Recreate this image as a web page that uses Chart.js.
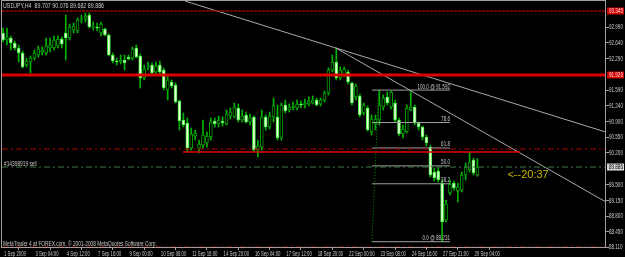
<!DOCTYPE html>
<html><head><meta charset="utf-8">
<script src="https://cdn.jsdelivr.net/npm/chart.js@4"></script>
<style>html,body{margin:0;padding:0;background:#000;}canvas{display:block}</style>
</head><body>
<canvas id="c" width="625" height="257"></canvas>
<script>
// ---- data (USDJPY H4) ----
const opens = [92.857,92.702,92.747,92.636,92.525,92.414,92.148,92.215,92.303,92.370,
92.436,92.414,92.525,92.525,92.569,92.724,92.857,92.747,92.924,92.902,
93.146,93.168,93.256,92.990,92.990,92.857,92.946,92.813,92.370,92.237,
92.215,92.259,92.325,92.303,92.525,92.348,91.860,92.104,92.148,91.993,
92.148,92.037,91.594,91.771,91.705,91.350,90.928,90.862,90.307,90.574,
90.307,90.373,90.418,90.551,90.906,90.840,90.906,90.840,91.017,90.995,
91.195,90.928,91.039,90.884,90.995,90.263,90.329,90.995,90.773,90.995,
90.995,90.529,91.261,91.150,91.195,91.195,91.283,91.261,91.283,91.305,
91.372,91.283,91.372,91.527,92.037,92.215,91.860,91.926,91.993,91.749,
91.439,91.461,91.084,91.195,90.662,90.840,90.928,91.217,91.439,91.217,
91.305,90.928,90.618,90.662,91.150,91.217,90.862,90.773,90.551,90.329,
89.776,89.798,89.532,88.711,89.310,89.532,89.355,89.375,89.710,89.820,
90.042,89.707];
const highs = [92.968,92.968,92.791,92.680,92.591,92.458,92.303,92.348,92.481,92.569,
92.547,92.747,92.747,92.791,92.791,92.769,93.256,93.057,93.079,93.190,
93.256,93.301,93.301,93.101,93.079,93.101,92.968,92.835,92.414,92.303,
92.370,92.370,92.370,92.547,92.591,92.392,92.148,92.215,92.192,92.215,
92.237,92.082,91.926,91.816,91.749,91.372,91.084,90.973,90.751,90.707,
90.485,90.928,90.662,90.973,90.973,91.017,90.995,91.150,91.195,91.305,
91.283,91.150,91.106,91.061,91.017,90.485,91.150,91.039,91.106,91.416,
91.261,91.305,91.372,91.283,91.328,91.372,91.350,91.394,91.439,91.461,
91.416,91.416,91.570,92.082,92.370,92.525,92.104,92.104,92.037,91.771,
91.727,91.505,91.305,91.239,91.039,91.039,91.592,91.483,91.550,91.570,
91.372,90.973,90.817,91.261,91.572,91.261,90.884,90.795,90.596,90.373,
89.864,89.864,89.599,89.155,89.599,89.576,89.532,89.776,89.975,90.219,
90.086,90.076];
const lows = [92.658,92.591,92.481,92.481,92.215,92.082,92.104,91.971,92.259,92.325,
92.370,92.370,92.436,92.481,92.525,92.525,92.259,92.702,92.857,92.857,
93.079,93.101,92.968,92.924,92.902,92.791,92.791,92.348,92.192,92.148,
92.170,92.037,92.259,92.259,92.303,91.638,91.816,92.037,91.926,91.926,
91.949,91.594,91.372,91.638,91.305,90.707,90.773,90.219,90.263,90.485,
90.197,90.307,90.329,90.485,90.773,90.773,90.795,90.817,90.950,90.973,
90.884,90.884,90.862,90.817,90.219,90.108,90.263,90.707,90.729,90.884,
90.485,90.485,91.084,91.106,91.150,91.150,91.195,91.195,91.239,91.283,
91.239,91.239,91.328,91.483,91.993,91.816,91.816,91.882,91.727,91.261,
91.372,90.995,91.039,90.684,90.596,90.707,90.817,91.150,91.261,91.172,
90.884,90.574,90.529,90.640,91.128,90.817,90.707,90.485,90.351,89.665,
89.576,89.554,88.231,88.667,89.266,89.375,89.110,89.332,89.599,89.776,
89.710,89.682];
const closes = [92.702,92.769,92.636,92.525,92.414,92.104,92.237,92.303,92.414,92.503,
92.481,92.569,92.591,92.702,92.724,92.614,92.747,92.990,93.012,93.146,
93.168,93.234,92.990,93.012,92.968,93.057,92.813,92.370,92.237,92.215,
92.259,92.192,92.281,92.503,92.325,91.860,92.059,92.126,91.971,92.126,
91.993,91.638,91.816,91.683,91.328,90.906,90.817,90.307,90.618,90.640,
90.396,90.596,90.574,90.884,90.840,90.928,90.862,91.061,91.106,91.217,
90.928,91.017,90.884,90.973,90.263,90.351,90.995,90.773,91.017,91.239,
90.529,91.261,91.128,91.217,91.239,91.283,91.261,91.305,91.350,91.372,
91.261,91.372,91.527,92.037,92.215,91.860,92.037,92.059,91.771,91.305,
91.683,91.039,91.261,90.707,90.950,90.950,91.261,91.416,91.305,91.550,
90.928,90.618,90.729,91.195,91.217,90.862,90.773,90.551,90.418,89.710,
89.643,89.599,88.667,89.066,89.510,89.421,89.443,89.710,89.886,89.997,
89.754,89.886];

const yTicks = [92.990,92.640,92.290,91.590,91.240,90.900,90.550,90.200,89.500,89.150,88.800,88.450,88.110];
const xTickIdx = [0,8,16,24,32,40,48,56,64,72,80,88,96,104,112,120];
const xTickLabels = ["1 Sep 2009","3 Sep 04:00","4 Sep 12:00","7 Sep 16:00","9 Sep 00:00","10 Sep 08:00",
  "11 Sep 16:00","14 Sep 20:00","16 Sep 04:00","17 Sep 12:00","18 Sep 20:00","22 Sep 00:00",
  "23 Sep 08:00","24 Sep 16:00","27 Sep 21:00","29 Sep 04:00"];

// objects drawn on the chart (candle index, price)
const topLevel = 93.345;
const redLevel = 91.926;
const supportLevel = 90.219;
const supportRange = [45.9, 131.9];
const dashLevels = [90.285, 88.113];
const orderPrice = 89.886;
const trendA = [{x:46.4, y:93.567},{x:153.8, y:90.66}];
const trendB = [{x:84.9, y:92.525},{x:153.8, y:89.11}];
const fibHigh = 91.592, fibLow = 88.231;
const fibLevels = [100, 78.6, 61.8, 50.0, 38.2, 0];
const fibRange = [94.1, 114.0];
const fibAnchorIdx = [94.1, 95.8];

const X_MIN = -0.26, X_MAX = 153.8, Y_MIN = 88.091, Y_MAX = 93.567;
const FONT = "'Liberation Sans', Arial, sans-serif";

const N = opens.length;
const idx = opens.map((_, i) => i);
const isBear = idx.map(i => closes[i] < opens[i]);
const full = [X_MIN, X_MAX];

function hl(price, range) { return [{x: range[0], y: price}, {x: range[1], y: price}]; }
function lineDs(data, color, width, dash) {
  return {type:'line', data, borderColor: color, borderWidth: width, borderDash: dash || [],
    pointRadius: 0, fill: false, tension: 0, order: 0};
}
const fibPrice = l => fibLow + l / 100 * (fibHigh - fibLow);

const datasets = [
  {type:'bar', data: idx.map(i => ({x: i, y: [lows[i], highs[i]]})), barThickness: 1,
   backgroundColor: '#00b400', borderWidth: 0, grouped: false, order: 2},
  {type:'bar', data: idx.map(i => ({x: i, y: [opens[i], closes[i]]})), barThickness: 3,
   backgroundColor: idx.map(i => isBear[i] ? '#e6ffd6' : '#000000'),
   borderColor: idx.map(i => isBear[i] ? '#40f040' : '#00a000'),
   borderWidth: 1, borderSkipped: false, grouped: false, order: 1},
  lineDs(hl(topLevel, full), '#a00000', 1.5, [3, 1]),
  lineDs(hl(redLevel, full), '#dd0000', 3),
  lineDs(hl(dashLevels[0], full), '#b00000', 1, [6, 3, 2, 3]),
  lineDs(hl(dashLevels[1], full), '#b00000', 1, [6, 3, 2, 3]),
  lineDs(hl(orderPrice, full), '#3a7a44', 1, [6, 3, 2, 3]),
  lineDs(hl(supportLevel, supportRange), '#e00000', 1.5),
  lineDs(trendA, '#a8a8a8', 1),
  lineDs(trendB, '#a8a8a8', 1),
  lineDs([{x: fibAnchorIdx[0], y: fibLow}, {x: fibAnchorIdx[1], y: fibHigh}], '#00a000', 1, [1, 2]),
];
fibLevels.forEach(l => datasets.push(lineDs(hl(fibPrice(l), fibRange), '#a0a0a0', 1)));

function txt(ctx, s, x, y, size, sx, align, base) {
  ctx.save();
  ctx.font = size + 'px ' + FONT;
  ctx.translate(x, y); ctx.scale(sx, 1);
  ctx.textAlign = align || 'left'; ctx.textBaseline = base || 'alphabetic';
  ctx.fillText(s, 0, 0);
  ctx.restore();
}

const overlay = {
  id: 'overlay',
  beforeDraw(chart) {
    const c = chart.ctx; c.save(); c.fillStyle = '#000'; c.fillRect(0, 0, chart.width, chart.height); c.restore();
  },
  afterDraw(chart) {
    const {ctx, chartArea: a, scales: {x, y}} = chart;
    ctx.save();
    ctx.strokeStyle = '#a0a0a0'; ctx.lineWidth = 1;
    ctx.strokeRect(Math.round(a.left) - 0.5, Math.round(a.top) - 0.5, Math.round(a.right - a.left), Math.round(a.bottom - a.top));
    ctx.fillStyle = '#c8c8c8';
    // axis tick labels
    x.ticks.forEach((t, i) => txt(ctx, xTickLabels[i], x.getPixelForValue(t.value) + 1, 256, 6.5, 0.66));
    y.ticks.forEach(t => txt(ctx, t.value.toFixed(3), a.right + 3, y.getPixelForValue(t.value) + 0.5, 6.5, 0.7, 'left', 'middle'));
    txt(ctx, 'USDJPY,H4  ' + [opens[N-1], highs[N-1], lows[N-1], closes[N-1]].map(v => v.toFixed(3)).join(' '), 3, 8, 7, 0.76);
    txt(ctx, 'MetaTrader 4 at FOREX.com, \u00A9 2001-2008 MetaQuotes Software Corp.', 3, 246, 6.5, 0.74);
    txt(ctx, '#14398919 sell', 4, y.getPixelForValue(orderPrice) - 1, 6.5, 0.74);
    fibLevels.forEach(l => {
      const p = fibPrice(l);
      const s = l.toFixed(1) + ((l === 100 || l === 0) ? ' @ ' + p.toFixed(3) : '');
      txt(ctx, s, x.getPixelForValue(fibRange[1]), y.getPixelForValue(p) - 1.5, 6.5, 0.7, 'right');
    });
    // price boxes on axis
    const box = (p, bg, fg) => {
      const py = y.getPixelForValue(p);
      ctx.fillStyle = bg; ctx.fillRect(a.right + 1, py - 3.5, chart.width - a.right - 2, 7);
      ctx.fillStyle = fg; txt(ctx, p.toFixed(3), a.right + 3, py + 0.5, 6.5, 0.7, 'left', 'middle');
    };
    box(topLevel, '#d00000', '#ffdcdc');
    box(redLevel, '#d00000', '#ffdcdc');
    box(orderPrice, '#d8d8d8', '#000000');
    // timer text
    ctx.font = '11px ' + FONT; ctx.fillStyle = '#c8b400'; ctx.textAlign = 'left'; ctx.textBaseline = 'top';
    ctx.fillText('<--20:37', x.getPixelForValue(N - 1) + 30, y.getPixelForValue(orderPrice) + 2);
    ctx.restore();
  }
};

new Chart(document.getElementById('c'), {
  type: 'bar',
  data: {datasets},
  options: {
    responsive: false, animation: false, devicePixelRatio: 1,
    layout: {padding: {left: 2, top: 1, right: 0, bottom: 0}},
    plugins: {legend: {display: false}, tooltip: {enabled: false}},
    scales: {
      x: {
        type: 'linear', position: 'bottom', min: X_MIN, max: X_MAX, offset: false,
        afterBuildTicks: s => { s.ticks = xTickIdx.map(v => ({value: v})); },
        afterFit: s => { s.height = 9; s.paddingLeft = 0; s.paddingRight = 0; },
        ticks: {display: false, autoSkip: false, maxRotation: 0},
        grid: {display: true, drawOnChartArea: false, drawTicks: true, tickLength: 2, color: '#a0a0a0'},
        border: {display: false}
      },
      y: {
        type: 'linear', position: 'right', min: Y_MIN, max: Y_MAX,
        afterBuildTicks: s => { s.ticks = yTicks.map(v => ({value: v})); },
        afterFit: s => { s.width = 19; s.paddingTop = 0; s.paddingBottom = 0; },
        ticks: {display: false},
        grid: {display: true, drawOnChartArea: false, drawTicks: true, tickLength: 3, color: '#a0a0a0'},
        border: {display: false}
      }
    }
  },
  plugins: [overlay]
});
</script>
</body></html>
